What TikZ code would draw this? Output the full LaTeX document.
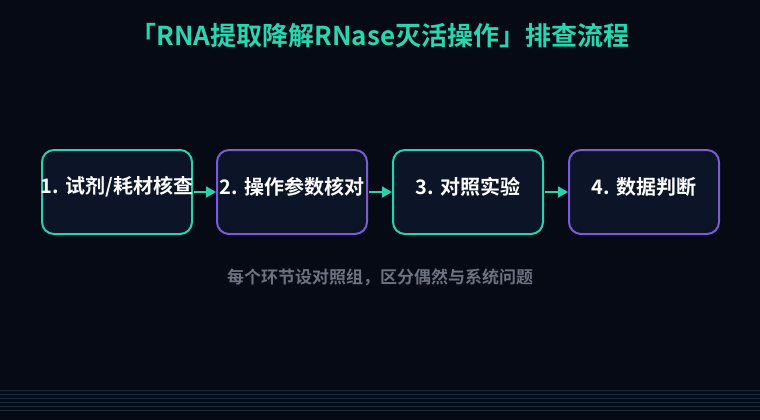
\documentclass[tikz,border=0pt]{standalone}
\usepackage{fontspec}
\setmainfont{Noto Sans CJK SC}[BoldFont={Noto Sans CJK SC Bold}]
\usetikzlibrary{arrows.meta}
\definecolor{bg}{HTML}{050A14}
\definecolor{boxfill}{HTML}{0B1527}
\definecolor{tealc}{HTML}{2CCFAE}
\definecolor{titlec}{HTML}{2AD6B2}
\definecolor{purplec}{HTML}{7B5AD6}
\definecolor{capc}{HTML}{6B7280}
\definecolor{linec}{HTML}{172A40}
\tikzset{
  stepbox/.style={draw, line width=2pt, rounded corners=12pt, fill=boxfill,
    minimum width=150pt, minimum height=84pt, inner sep=0pt},
  tealbox/.style={stepbox, draw=tealc},
  purplebox/.style={stepbox, draw=purplec},
  steptext/.style={text=white, font=\bfseries\fontsize{20}{24}\selectfont, inner sep=0pt},
  arr/.style={draw=tealc, line width=2pt, -{Stealth[length=10pt,width=11pt,inset=0pt]}, shorten <=1pt},
  bgline/.style={draw=linec, line width=0.9pt}
}
\begin{document}
\begin{tikzpicture}[x=1pt,y=-1pt]
\fill[bg] (0,0) rectangle (760,420);
\useasboundingbox (0,0) rectangle (760,420);
\foreach \yy in {390,394,...,410} {\draw[bgline] (0,\yy) -- (760,\yy);}
\node[text=titlec, font=\bfseries\fontsize{26}{30}\selectfont] (title) at (380,36) {「RNA提取降解RNase灭活操作」排查流程};
\node[tealbox] (b1) at (117,192) {};
\node[purplebox] (b2) at (292,192) {};
\node[tealbox] (b3) at (468,192) {};
\node[purplebox] (b4) at (644,192) {};
\node[steptext] (t1) at (117,187) {1. 试剂/耗材核查};
\node[steptext] (t2) at (292,187) {2. 操作参数核对};
\node[steptext] (t3) at (468,187) {3. 对照实验};
\node[steptext] (t4) at (644,187) {4. 数据判断};
\draw[arr] (b1.east) -- (b2.west);
\draw[arr] (b2.east) -- (b3.west);
\draw[arr] (b3.east) -- (b4.west);
\node[text=capc, font=\bfseries\fontsize{17}{20}\selectfont] (cap) at (380,277) {每个环节设对照组，区分偶然与系统问题};
\end{tikzpicture}
\end{document}
